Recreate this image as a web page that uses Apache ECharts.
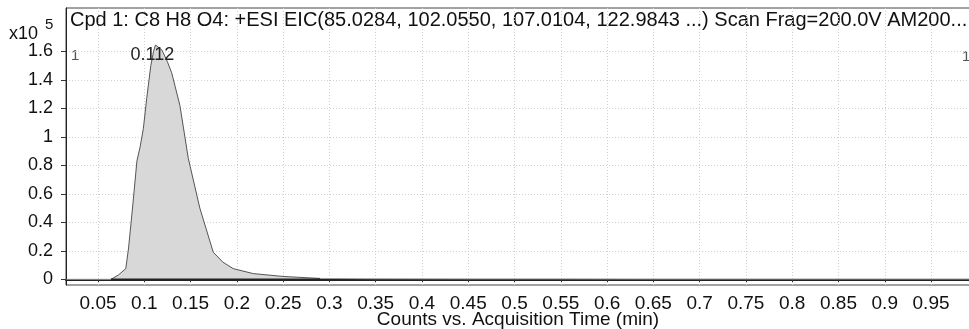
<!DOCTYPE html>
<html>
<head>
<meta charset="utf-8">
<script src="https://cdn.jsdelivr.net/npm/echarts@6/dist/echarts.min.js"></script>
<style>
  html, body { margin: 0; padding: 0; background: #ffffff; }
  #chart { width: 969px; height: 329px; }
</style>
</head>
<body>
<div id="chart"></div>
<script>
// Tick positions (acquisition time in min, counts in units of 10^5)
const timeTicks = [0.05, 0.1, 0.15, 0.2, 0.25, 0.3, 0.35, 0.4, 0.45, 0.5,
                   0.55, 0.6, 0.65, 0.7, 0.75, 0.8, 0.85, 0.9, 0.95];
const countTicks = [0, 0.2, 0.4, 0.6, 0.8, 1, 1.2, 1.4, 1.6];

// Extracted ion chromatogram, whole acquisition
const traceTime   = [0.016, 0.064, 0.29, 0.35, 0.45, 0.55, 0.65, 0.75, 0.85, 0.95, 0.992];
const traceCounts = [0,     0,     0.006, 0.004, 0.003, 0.003, 0.002, 0.002, 0.002, 0.002, 0.002];

// Integrated peak region
const peakTime   = [0.064, 0.072, 0.080, 0.083, 0.088, 0.092, 0.0955, 0.099, 0.1026, 0.107,
                    0.110, 0.112, 0.119, 0.1248, 0.1296, 0.1385, 0.1475, 0.160, 0.1745, 0.185,
                    0.196, 0.2177, 0.25, 0.29];
const peakCounts = [0,     0.03,  0.075, 0.22,  0.55,  0.83,  0.93,   1.06,  1.27,   1.50,
                    1.60,  1.645, 1.61,  1.53,   1.45,   1.22,   0.85,   0.50,  0.19,   0.12,
                    0.075, 0.04,  0.02, 0.006];
const apexTime = 0.112;

// Integration baseline under the peak
const baselineTime   = [0.064, 0.29];
const baselineCounts = [0, 0];

const titleText = 'Cpd 1: C8 H8 O4: +ESI EIC(85.0284, 102.0550, 107.0104, 122.9843 ...) Scan Frag=200.0V AM200...';
const xName = 'Counts vs. Acquisition Time (min)';

const FONT = 'Liberation Sans, Arial, sans-serif';
const pairs = (xs, ys) => xs.map((x, i) => [x, ys[i]]);

// Only the apex carries a label (its retention time)
const peakData = peakTime.map((t, i) => {
  if (t === apexTime) {
    return {
      value: [t, peakCounts[i]],
      label: {
        show: true,
        formatter: String(apexTime),
        position: 'inside',
        offset: [-3, 10],
        color: '#222',
        fontSize: 18,
        fontFamily: FONT
      },
      labelLine: { show: false }
    };
  }
  return [t, peakCounts[i]];
});

const gridDots = { color: '#d0d0d0', type: [1, 2], width: 1 };

const chart = echarts.init(document.getElementById('chart'), null, { renderer: 'canvas' });

chart.setOption({
  animation: false,
  backgroundColor: '#ffffff',
  grid: {
    left: 66, top: 8, width: 904, height: 277,
    outerBoundsMode: 'none',
    show: true, borderColor: '#444', borderWidth: 1, backgroundColor: 'transparent',
    containLabel: false
  },
  xAxis: {
    type: 'value',
    min: 0.0154, max: 0.9921,
    name: xName,
    nameLocation: 'middle',
    nameGap: 25,
    nameMoveOverlap: false,
    nameTextStyle: { color: '#111', fontSize: 19, fontFamily: FONT },
    axisLine: { show: true, lineStyle: { color: '#222', width: 2 } },
    axisTick: { show: true, length: 3, customValues: timeTicks, lineStyle: { color: '#333' } },
    axisLabel: {
      customValues: timeTicks, color: '#111', fontSize: 19, fontFamily: FONT, margin: 9,
      formatter: v => String(v)
    },
    splitLine: { show: true, customValues: timeTicks, lineStyle: gridDots }
  },
  yAxis: {
    type: 'value',
    min: -0.04, max: 1.905,
    axisLine: { show: true, lineStyle: { color: '#222', width: 1 } },
    axisTick: { show: true, length: 5, customValues: countTicks, lineStyle: { color: '#333' } },
    axisLabel: {
      customValues: countTicks, color: '#111', fontSize: 18, fontFamily: FONT, margin: 13,
      formatter: v => String(v)
    },
    splitLine: { show: true, customValues: countTicks, lineStyle: gridDots }
  },
  graphic: [
    { type: 'text', left: 70, top: 10,
      style: { text: titleText, fill: '#111', font: '20px ' + FONT } },
    { type: 'text', left: 9, top: 25,
      style: { text: 'x10', fill: '#111', font: '18px ' + FONT } },
    { type: 'text', left: 45, top: 17,
      style: { text: '5', fill: '#111', font: '15px ' + FONT } },
    { type: 'text', left: 71, top: 48,
      style: { text: '1', fill: '#555', font: '15px ' + FONT } },
    { type: 'text', left: 962, top: 49,
      style: { text: '1', fill: '#555', font: '15px ' + FONT } }
  ],
  series: [
    {
      type: 'line',
      data: pairs(traceTime, traceCounts),
      showSymbol: false,
      lineStyle: { color: '#9a9a9a', width: 1 },
      z: 2
    },
    {
      type: 'line',
      data: peakData,
      showSymbol: true,
      symbol: 'circle',
      symbolSize: 0,
      lineStyle: { color: '#555', width: 1 },
      areaStyle: { color: '#d8d8d8', opacity: 1 },
      z: 3
    },
    {
      type: 'line',
      data: pairs(baselineTime, baselineCounts),
      showSymbol: false,
      lineStyle: { color: '#222', width: 1.5 },
      z: 4
    }
  ]
});
</script>
</body>
</html>
